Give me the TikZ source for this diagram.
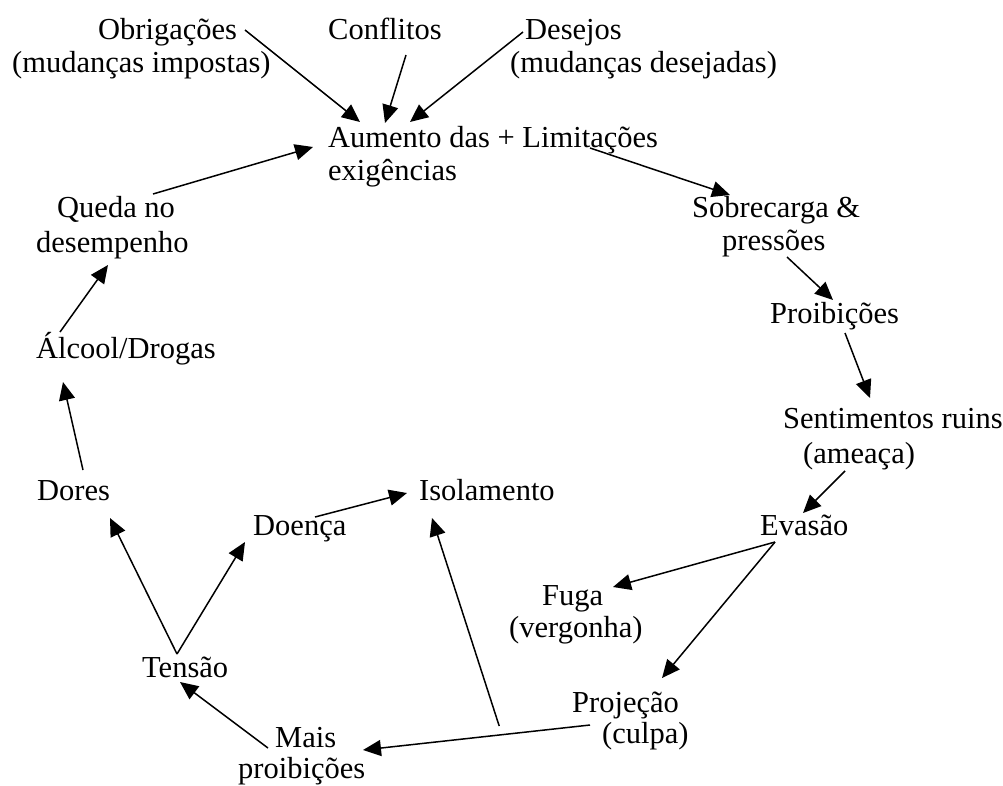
\documentclass[tikz,border=0pt]{standalone}
\usepackage{fontspec}
\setmainfont{Liberation Serif}
\usetikzlibrary{arrows.meta}
\begin{document}
\begin{tikzpicture}[x=1pt,y=-1pt,
  lbl/.style={anchor=base west, inner sep=0pt, font=\fontsize{30.5}{33}\selectfont},
  arr/.style={line width=1.5pt, -{Triangle[length=18pt,width=16pt]}}]
\useasboundingbox (0,0) rectangle (1003,785);
% text lines
\node[lbl] (obrA) at (98,39) {Obrigações};
\node[lbl] (obrB) at (12,72) {(mudanças impostas)};
\node[lbl] (conf) at (328,39) {Conflitos};
\node[lbl] (desA) at (525,39) {Desejos};
\node[lbl] (desB) at (510,72) {(mudanças desejadas)};
\node[lbl] (aumA) at (328,147) {Aumento das + Limitações};
\node[lbl] (aumB) at (328,180) {exigências};
\node[lbl] (queA) at (57,217) {Queda no};
\node[lbl] (queB) at (36,252) {desempenho};
\node[lbl] (sobA) at (692,217) {Sobrecarga \&};
\node[lbl] (sobB) at (722,250) {pressões};
\node[lbl] (pro) at (770,323) {Proibições};
\node[lbl] (alc) at (36,358) {Álcool/Drogas};
\node[lbl] (senA) at (783,428) {Sentimentos ruins};
\node[lbl] (senB) at (803,463) {(ameaça)};
\node[lbl] (dor) at (37,500) {Dores};
\node[lbl] (iso) at (419,500) {Isolamento};
\node[lbl] (doe) at (253,535) {Doença};
\node[lbl] (eva) at (760,535) {Evasão};
\node[lbl] (fugA) at (542,605) {Fuga};
\node[lbl] (fugB) at (509,637) {(vergonha)};
\node[lbl] (ten) at (142,677) {Tensão};
\node[lbl] (prjA) at (572,712) {Projeção};
\node[lbl] (prjB) at (602,743) {(culpa)};
\node[lbl] (maiA) at (275,747) {Mais};
\node[lbl] (maiB) at (238,778) {proibições};
% connectors
\draw[arr] ([shift={(147,-9)}]obrA.base west) -- ([shift={(32,-25)}]aumA.base west);
\draw[arr] ([shift={(78,16)}]conf.base west) -- ([shift={(57,-24)}]aumA.base west);
\draw[arr] ([shift={(-2,-7)}]desA.base west) -- ([shift={(82,-25)}]aumA.base west);
\draw[arr] ([shift={(96,-23)}]queA.base west) -- ([shift={(-15,0)}]aumA.base west);
\draw[arr] ([shift={(262,1)}]aumA.base west) -- ([shift={(38,-22)}]sobA.base west);
\draw[arr] ([shift={(65,7)}]sobB.base west) -- ([shift={(63,-23)}]pro.base west);
\draw[arr] ([shift={(75,10)}]pro.base west) -- ([shift={(87,-30)}]senA.base west);
\draw[arr] ([shift={(42,8)}]senB.base west) -- ([shift={(43,-22)}]eva.base west);
\draw[arr] ([shift={(15,7)}]eva.base west) -- ([shift={(71,-18)}]fugA.base west);
\draw[arr] ([shift={(15,7)}]eva.base west) -- ([shift={(90,-34)}]prjA.base west);
\draw[arr] ([shift={(18,13)}]prjA.base west) -- coordinate[pos=0.4] (junc) ([shift={(88,3)}]maiA.base west);
\draw[arr] ([shift={(0,-9)}]junc) -- ([shift={(13,18)}]iso.base west);
\draw[arr] ([shift={(62,-18)}]doe.base west) -- ([shift={(-12,-7)}]iso.base west);
\draw[arr] ([shift={(-7,1)}]maiA.base west) -- ([shift={(38,5)}]ten.base west);
\draw[arr] ([shift={(35,-23)}]ten.base west) -- ([shift={(73,18)}]dor.base west);
\draw[arr] ([shift={(35,-23)}]ten.base west) -- ([shift={(-8,7)}]doe.base west);
\draw[arr] ([shift={(46,-30)}]dor.base west) -- ([shift={(27,24)}]alc.base west);
\draw[arr] ([shift={(24,-26)}]alc.base west) -- ([shift={(72,13)}]queB.base west);
\end{tikzpicture}
\end{document}
